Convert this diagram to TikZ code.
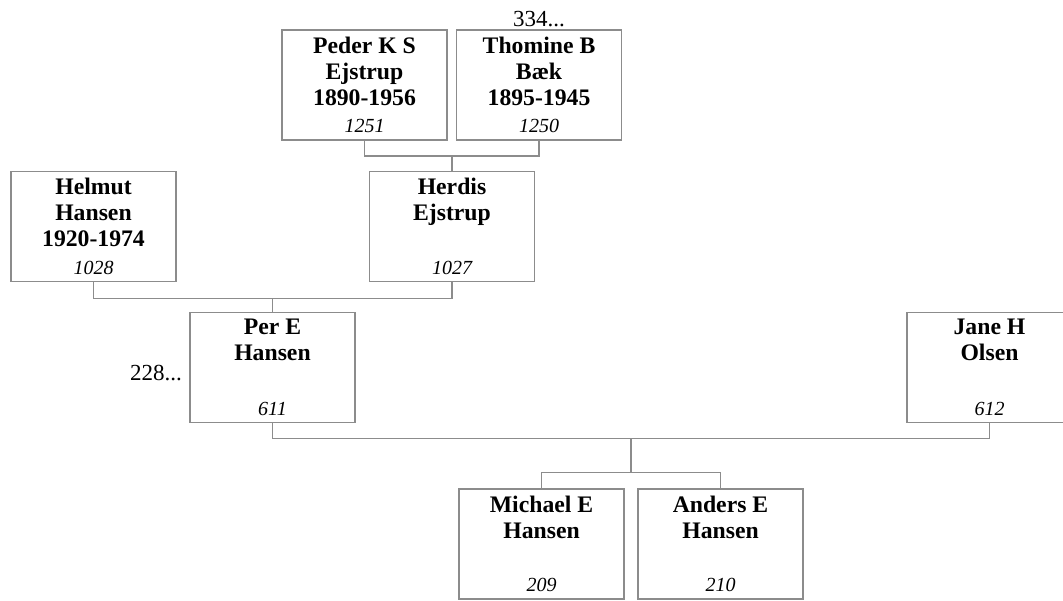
\documentclass[tikz,border=0pt]{standalone}
\usepackage{fontspec}
\setmainfont{Liberation Serif}
\usetikzlibrary{calc}
\definecolor{boxline}{gray}{0.55}
% name lines at the top of the box, number at the bottom
\newcommand{\person}[2]{\parbox[c][48pt][s]{82pt}{\centering\fontsize{11.85}{13}\selectfont\bfseries #1\par\vfill{\fontsize{10}{12}\selectfont\mdseries\itshape #2}\par}}

\begin{document}
\begin{tikzpicture}[x=0.5pt,y=-0.5pt,
  person/.style={draw=boxline,line width=0.75pt,inner sep=0pt,minimum width=82.5pt,minimum height=55pt},
  link/.style={draw=boxline,line width=0.75pt},
  note/.style={font=\fontsize{11.5}{13}\selectfont,inner sep=1pt}]
  \useasboundingbox (0,0) rectangle (1063,600);
  % grandparents
  \node[person] (peder) at (364.5,85) {\person{Peder K S\\Ejstrup\\1890-1956}{1251}};
  \node[person] (thomine) at (539,85) {\person{Thomine B\\Bæk\\1895-1945}{1250}};
  \node[note,above] (moreThomine) at (thomine.north) {334...};
  % parents
  \node[person] (helmut) at (93.5,226.5) {\person{Helmut\\Hansen\\1920-1974}{1028}};
  \node[person] (herdis) at (452,226.5) {\person{Herdis\\Ejstrup}{1027}};
  \node[person] (per) at (272.5,367.5) {\person{Per E\\Hansen}{611}};
  \node[note,anchor=east,inner sep=3.5pt] (morePer) at ([yshift=-2.75pt]per.west) {228...};
  \node[person] (jane) at (989.5,367.5) {\person{Jane H\\Olsen}{612}};
  % children
  \node[person] (michael) at (541.5,544) {\person{Michael E\\Hansen}{209}};
  \node[person] (anders) at (720.5,544) {\person{Anders E\\Hansen}{210}};
  % family lines
  \draw[link] (peder.south) -- ++(0,15) coordinate (pt) -| (thomine.south);
  \draw[link] (herdis.north) -- (herdis.north |- pt);
  \draw[link] (helmut.south) -- ++(0,16) coordinate (hh) -| (herdis.south);
  \draw[link] (per.north) -- (per.north |- hh);
  \draw[link] (per.south) -- ++(0,15) -| (jane.south);
  \coordinate (fam) at ($(per.south)!0.5!(jane.south)+(0,15)$);
  \draw[link] (michael.north) -- ++(0,-16) coordinate (kb) -| (anders.north);
  \draw[link] (fam) -- (fam |- kb);
\end{tikzpicture}
\end{document}
